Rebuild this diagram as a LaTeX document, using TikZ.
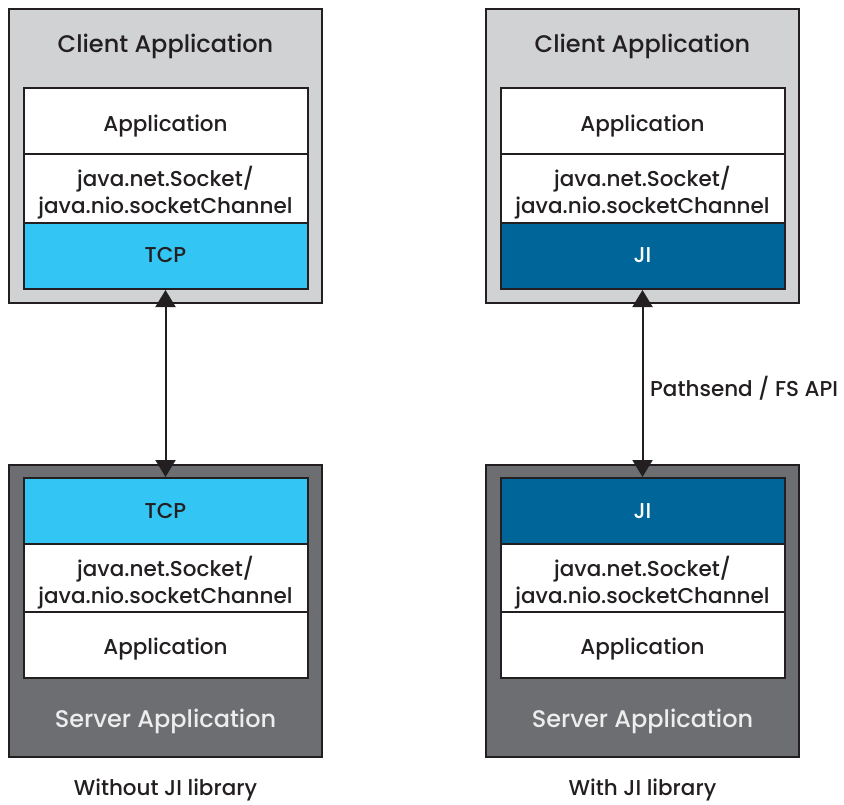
\documentclass[tikz,border=0pt]{standalone}
\usepackage{fontspec}
\setmainfont{Poppins}[UprightFont=* Medium]
\usetikzlibrary{arrows.meta}
\definecolor{ink}{HTML}{231F20}
\definecolor{lightgray}{HTML}{D1D2D4}
\definecolor{darkgray}{HTML}{6D6E71}
\definecolor{tcpcyan}{HTML}{33C5F3}
\definecolor{jiblue}{HTML}{006699}
\tikzset{
  outerbox/.style={draw=ink, line width=2pt, minimum width=313pt, inner sep=0pt},
  layer/.style={draw=ink, line width=2pt, fill=white, minimum width=284pt, inner sep=0pt},
  ltext/.style={anchor=base, inner sep=0pt, text=ink, font=\fontsize{21.5}{26}\selectfont},
  title/.style={anchor=base, font=\fontsize{24}{28}\selectfont, inner sep=0pt},
  caption/.style={anchor=base, font=\fontsize{21.5}{26}\selectfont, text=ink, inner sep=0pt},
  link/.style={draw=ink, line width=2pt, {Triangle[length=17pt,width=20pt]}-{Triangle[length=17pt,width=20pt]}},
}
\begin{document}
\begin{tikzpicture}[x=1pt,y=-1pt]
\useasboundingbox (0,0) rectangle (844,804);
\foreach \cx/\nm/\proto/\pcol/\ptxt in {165.5/L/TCP/tcpcyan/ink, 642.5/R/JI/jiblue/white}{
  % client
  \node[outerbox, fill=lightgray, minimum height=294pt] (c\nm) at (\cx,156) {};
  \node[title, text=ink] (ct\nm) at (\cx,52) {Client Application};
  \node[layer, minimum height=66pt] (ca\nm) at (\cx,121) {};
  \node[ltext] (cat\nm) at (\cx,131) {Application};
  \node[layer, minimum height=69pt] (cs\nm) at (\cx,188.5) {};
  \node[ltext] (cst\nm) at (\cx,186.5) {java.net.Socket/};
  \node[ltext] (csu\nm) at (\cx,213) {java.nio.socketChannel};
  \node[layer, minimum height=66pt, fill=\pcol] (cp\nm) at (\cx,256) {};
  \node[ltext, text=\ptxt] (cpt\nm) at (\cx,262.5) {\proto};
  % server
  \node[outerbox, fill=darkgray, minimum height=292pt] (s\nm) at (\cx,611) {};
  \node[title, text=white!93!black] (st\nm) at (\cx,727) {Server Application};
  \node[layer, minimum height=66pt, fill=\pcol] (sp\nm) at (\cx,511) {};
  \node[ltext, text=\ptxt] (spt\nm) at (\cx,518.5) {\proto};
  \node[layer, minimum height=68pt] (ss\nm) at (\cx,578) {};
  \node[ltext] (sst\nm) at (\cx,576.5) {java.net.Socket/};
  \node[ltext] (ssu\nm) at (\cx,603) {java.nio.socketChannel};
  \node[layer, minimum height=66pt] (sa\nm) at (\cx,645) {};
  \node[ltext] (sat\nm) at (\cx,654) {Application};
  \draw[link] (cp\nm.south) -- (sp\nm.north);
}
\node[caption] (capL) at (165.5,795) {Without JI library};
\node[caption] (capR) at (642.5,795) {With JI library};
\node[caption, anchor=base west] (api) at (650,396) {Pathsend / FS API};
\end{tikzpicture}
\end{document}
